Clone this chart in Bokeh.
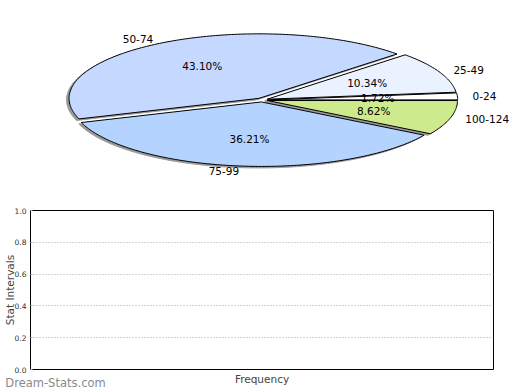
import numpy as np
from bokeh.plotting import figure
from bokeh.models import Range1d, FixedTicker, PrintfTickFormatter, LinearAxis
from bokeh.core.properties import value
from bokeh.embed import file_html
from bokeh.resources import INLINE

# ---- data ----
categories = ["0-24", "25-49", "50-74", "75-99", "100-124"]
counts = [1, 6, 25, 21, 5]
colors = ["#FFFFFF", "#EAF1FF", "#C5D8FF", "#B4D4FF", "#CDEA8C"]
ytick_values = [0.0, 0.2, 0.4, 0.6, 0.8, 1.0]
grid_values = [0.2, 0.4, 0.6, 0.8]
y_label = "Stat Intervals"
x_label = "Frequency"
watermark = "Dream-Stats.com"

FONT = "DejaVu Sans"

# ---- pie (unit circle squashed into an ellipse by the scales) ----
pie = figure(width=520, height=190,
             x_range=Range1d(-1.3763, 1.3605), y_range=Range1d(-1.4031, 1.5426),
             output_backend="svg", toolbar_location=None, min_border=0,
             x_axis_location=None, y_axis_location=None)
pie.grid.visible = False
pie.outline_line_color = None

total = float(sum(counts))
frac = np.array(counts) / total
ends = np.cumsum(frac) * 2 * np.pi
starts = ends - frac * 2 * np.pi
mids = (starts + ends) / 2
explode = 0.03
sdx, sdy = -2.5 / 190.0, -1.5 / 64.5

slice_xs, slice_ys, shadow_xs, shadow_ys = [], [], [], []
for a0, a1, m in zip(starts, ends, mids):
    ox, oy = explode * np.cos(m), explode * np.sin(m)
    t = np.linspace(a0, a1, max(int((a1 - a0) * 60), 3))
    xs = [ox] + list(ox + np.cos(t))
    ys = [oy] + list(oy + np.sin(t))
    slice_xs.append(xs)
    slice_ys.append(ys)
    shadow_xs.append([x + sdx for x in xs])
    shadow_ys.append([y + sdy for y in ys])

pie.patches(shadow_xs, shadow_ys, fill_color="#999999", line_color="#999999", line_width=1)
pie.patches(slice_xs, slice_ys, fill_color=colors, line_color="black", line_width=1)

pct = ["%.2f%%" % (f * 100) for f in frac]
r_in, r_out = 0.61, 1.11
pie.text(x=list(r_in * np.cos(mids)), y=list(r_in * np.sin(mids)), text=pct,
         text_align="center", text_baseline="middle",
         text_font=value(FONT), text_font_size="10.5px", text_color="black")
out_align = ["left" if np.cos(m) > 0 else "right" for m in mids]
pie.text(x=list(r_out * np.cos(mids)), y=list(r_out * np.sin(mids)), text=categories,
         text_align=out_align, text_baseline="middle",
         text_font=value(FONT), text_font_size="10.5px", text_color="black")

# ---- empty bar chart ----
bar = figure(width=520, height=200, x_range=Range1d(0, 1), y_range=Range1d(0, 1),
             output_backend="svg", toolbar_location=None, x_axis_location=None,
             min_border_left=25, min_border_right=27, min_border_top=20, min_border_bottom=21)
bar.outline_line_color = "black"
bar.outline_line_width = 1
bar.xgrid.visible = False
bar.ygrid.ticker = FixedTicker(ticks=grid_values)
bar.ygrid.grid_line_color = "#aaaaaa"
bar.ygrid.grid_line_dash = "1 2"

ya = bar.yaxis[0]
ya.ticker = FixedTicker(ticks=ytick_values)
ya.formatter = PrintfTickFormatter(format="%.1f")
ya.major_label_text_font = FONT
ya.major_label_text_font_size = "7.5px"
ya.major_label_text_color = "#333333"
ya.major_label_standoff = 4
ya.major_tick_in = 2
ya.major_tick_out = 0
ya.major_tick_line_color = "#aaaaaa"
ya.minor_tick_line_color = None
ya.axis_line_color = None
ya.axis_label = y_label
ya.axis_label_text_font = FONT
ya.axis_label_text_font_size = "10.5px"
ya.axis_label_text_font_style = "normal"
ya.axis_label_standoff = -4

# x axis: the watermark rides as the single tick label at the lower left,
# "Frequency" is the axis label pulled up onto the same row
xa = LinearAxis(ticker=FixedTicker(ticks=[0.054]),
                formatter=PrintfTickFormatter(format=watermark),
                major_label_text_font=FONT, major_label_text_font_size="11.5px",
                major_label_text_color="#8a8a8a", major_label_standoff=6,
                major_tick_in=0, major_tick_out=0, major_tick_line_color=None,
                minor_tick_line_color=None, axis_line_color=None,
                axis_label=x_label, axis_label_text_font=FONT,
                axis_label_text_font_size="10.5px", axis_label_text_font_style="normal",
                axis_label_standoff=-20)
bar.add_layout(xa, "below")

open("out.html", "w").write(file_html([pie, bar], INLINE))
